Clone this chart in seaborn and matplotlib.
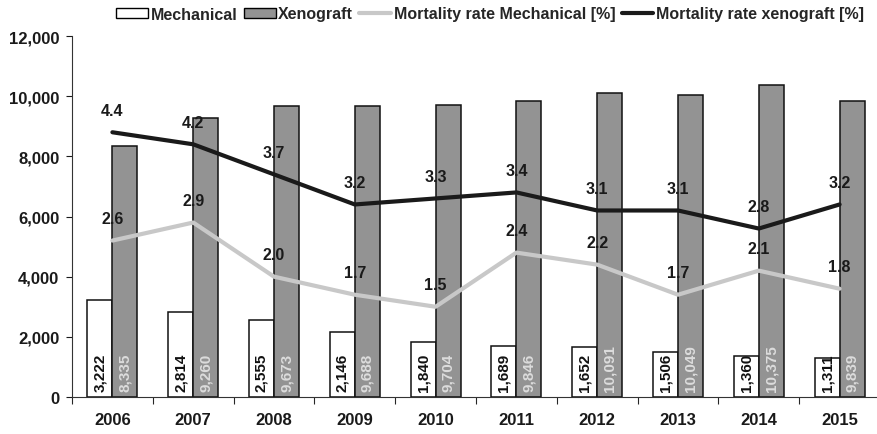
import numpy as np
import pandas as pd
import seaborn as sns
import matplotlib.pyplot as plt
from matplotlib.patches import Patch
from matplotlib.lines import Line2D

years = ["2006", "2007", "2008", "2009", "2010", "2011", "2012", "2013", "2014", "2015"]
mechanical = [3222, 2814, 2555, 2146, 1840, 1689, 1652, 1506, 1360, 1311]
xenograft = [8335, 9260, 9673, 9688, 9704, 9846, 10091, 10049, 10375, 9839]
mort_mech = [2.6, 2.9, 2.0, 1.7, 1.5, 2.4, 2.2, 1.7, 2.1, 1.8]
mort_xeno = [4.4, 4.2, 3.7, 3.2, 3.3, 3.4, 3.1, 3.1, 2.8, 3.2]

sns.set_style("white")
plt.rcParams['font.family'] = ['Liberation Sans', 'DejaVu Sans']
plt.rcParams['font.weight'] = 'bold'

df = pd.DataFrame({
    "year": years * 2,
    "count": mechanical + xenograft,
    "type": ["Mechanical"] * len(years) + ["Xenograft"] * len(years),
})

fig = plt.figure(figsize=(8.77, 4.35), dpi=100)
ax = fig.add_axes([72 / 877, 37 / 435, 808 / 877, 361 / 435])

sns.barplot(data=df, x="year", y="count", hue="type", hue_order=["Mechanical", "Xenograft"],
            palette={"Mechanical": "white", "Xenograft": "#939393"},
            edgecolor="#111111", linewidth=1.1, width=0.62, legend=False, ax=ax)

# bar value labels inside bars
nb = len(years)
for i, p in enumerate(ax.patches[:2 * nb]):
    val = mechanical[i] if i < nb else xenograft[i - nb]
    col = "#111111" if i < nb else "#dcdcdc"
    ax.text(p.get_x() + p.get_width() / 2, 200, f"{val:,}", rotation=90,
            ha="center", va="bottom", fontsize=11, fontweight="bold", color=col)

ax.set_ylim(0, 12000)
ax.set_xlim(-0.5, nb - 0.5)
ax.set_yticks(np.arange(0, 12001, 2000))
ax.set_yticklabels([f"{v:,}" for v in range(0, 12001, 2000)], fontsize=12, fontweight="bold")
ax.set_xticks(np.arange(nb))
ax.set_xticklabels(years, fontsize=12, fontweight="bold")
ax.set_xlabel("")
ax.set_ylabel("")
ax.tick_params(axis="x", length=0, pad=11, colors="#1a1a1a")
ax.tick_params(axis="y", length=4, width=0.8, direction="out", left=True, pad=5, colors="#1a1a1a")
# minor ticks at category boundaries
ax.set_xticks(np.arange(nb + 1) - 0.5, minor=True)
ax.tick_params(axis="x", which="minor", length=5, width=0.8, direction="out", bottom=True)
for s in ["top", "right"]:
    ax.spines[s].set_visible(False)
for s in ["left", "bottom"]:
    ax.spines[s].set_color("#333333")
    ax.spines[s].set_linewidth(0.8)

# mortality rates on hidden secondary axis
ax2 = ax.twinx()
ax2.set_ylim(0, 6)
x = np.arange(nb)
ax2.plot(x, mort_mech, color="#c8c8c8", linewidth=3)
ax2.plot(x, mort_xeno, color="#1a1a1a", linewidth=3)
for series in (mort_mech, mort_xeno):
    for xi, v in zip(x, series):
        ax2.annotate(f"{v:.1f}", (xi, v), xytext=(0, 16), textcoords="offset points",
                     ha="center", va="center", fontsize=11.5, fontweight="bold", color="#1a1a1a")
ax2.set_yticks([])
for s in ["top", "right", "left", "bottom"]:
    ax2.spines[s].set_visible(False)

handles = [
    Patch(facecolor="white", edgecolor="black", linewidth=1),
    Patch(facecolor="#939393", edgecolor="black", linewidth=1),
    Line2D([0], [0], color="#c8c8c8", linewidth=3),
    Line2D([0], [0], color="#1a1a1a", linewidth=3),
]
labels = ["Mechanical", "Xenograft", "Mortality rate Mechanical [%]", "Mortality rate xenograft [%]"]
fig.legend(handles, labels, loc="center", bbox_to_anchor=(490 / 877, 1 - 15 / 435), ncol=4,
           frameon=False, handlelength=2.0, handleheight=0.55, handletextpad=0.15,
           columnspacing=0.4, borderpad=0, prop={"weight": "bold", "size": 11.5})

plt.savefig("out.png", dpi=100)
plt.close()
